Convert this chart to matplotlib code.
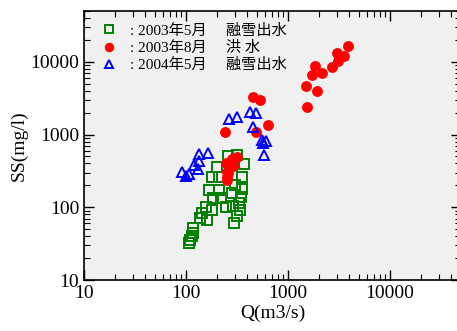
import matplotlib
matplotlib.use('Agg')
import matplotlib.pyplot as plt

plt.rcParams['font.family'] = ['Liberation Serif', 'Noto Sans CJK JP']

# ========== データ ==========
# 2003年5月 融雪出水 (Q m3/s, SS mg/l)
q_2003_05 = [108, 109, 118, 116, 114, 137, 160, 143, 157, 179, 183, 167, 212, 220,
             181, 209, 200, 245, 260, 314, 370, 357, 302, 281, 352, 344, 333, 338,
             291, 318, 298, 284]
ss_2003_05 = [32, 35, 45, 52, 40, 72, 67, 83, 102, 92, 133, 173, 173, 135,
              259, 259, 362, 102, 513, 524, 390, 264, 203, 159, 179, 140, 114, 92,
              105, 77, 60, 278]

# 2003年8月 洪水
q_2003_08 = [3846, 3000, 3540, 3070, 2720, 1840, 1710, 2140, 1500, 1910, 1520,
             457, 531, 641, 482, 243, 314, 281, 245, 291, 260, 250, 254, 250]
ss_2003_08 = [16600, 13400, 12100, 10300, 8450, 8630, 6560, 6990, 4580, 3910, 2380,
              3330, 2970, 1370, 1070, 1070, 488, 457, 403, 370, 299, 264, 238, 310]

# 2004年5月 融雪出水
q_2004_05 = [91, 100, 108, 121, 133, 130, 135, 166, 264, 314, 424, 485, 450,
             552, 609, 565, 586]
ss_2004_05 = [303, 273, 284, 383, 439, 333, 542, 553, 1660, 1730, 2010, 1970, 1250,
              845, 827, 760, 520]

labels = [': 2003年5月　 融雪出水', ': 2003年8月　 洪 水', ': 2004年5月　 融雪出水']

fig = plt.figure(figsize=(4.57, 3.31), dpi=100)
ax = fig.add_axes([0.1838, 0.154, 0.8256, 0.813])
ax.set_facecolor('#f0f0f0')

ax.plot(q_2003_05, ss_2003_05, 's', mfc='none', mec='#008000', mew=1.4, ms=6.5,
        label=labels[0])
ax.plot(q_2003_08, ss_2003_08, 'o', color='red', mec='red', ms=6.8, label=labels[1])
ax.plot(q_2004_05, ss_2004_05, '^', mfc='none', mec='blue', mew=1.4, ms=7.3,
        label=labels[2])

ax.set_xscale('log')
ax.set_yscale('log')
ax.set_xlim(10, 50000)
ax.set_ylim(10, 50000)
ax.set_xticks([10, 100, 1000, 10000])
ax.set_xticklabels(['10', '100', '1000', '10000'])
ax.set_yticks([10, 100, 1000, 10000])
ax.set_yticklabels(['10', '100', '1000', '10000'])
ax.tick_params(which='both', direction='in', top=True, right=True, labelsize=14)
ax.tick_params(which='major', length=7, width=1)
ax.tick_params(which='minor', length=4, width=0.8)
for s in ax.spines.values():
    s.set_linewidth(1.2)

ax.set_xlabel('Q(m3/s)', fontsize=14, labelpad=2)
ax.set_ylabel('SS(mg/l)', fontsize=14, labelpad=2)

ax.legend(loc='upper left', bbox_to_anchor=(0.03, 0.975), frameon=False,
          fontsize=11, handlelength=1.0, handletextpad=0.9, labelspacing=0.2,
          borderaxespad=0, markerscale=0.85)

plt.savefig('out.png', dpi=100)
